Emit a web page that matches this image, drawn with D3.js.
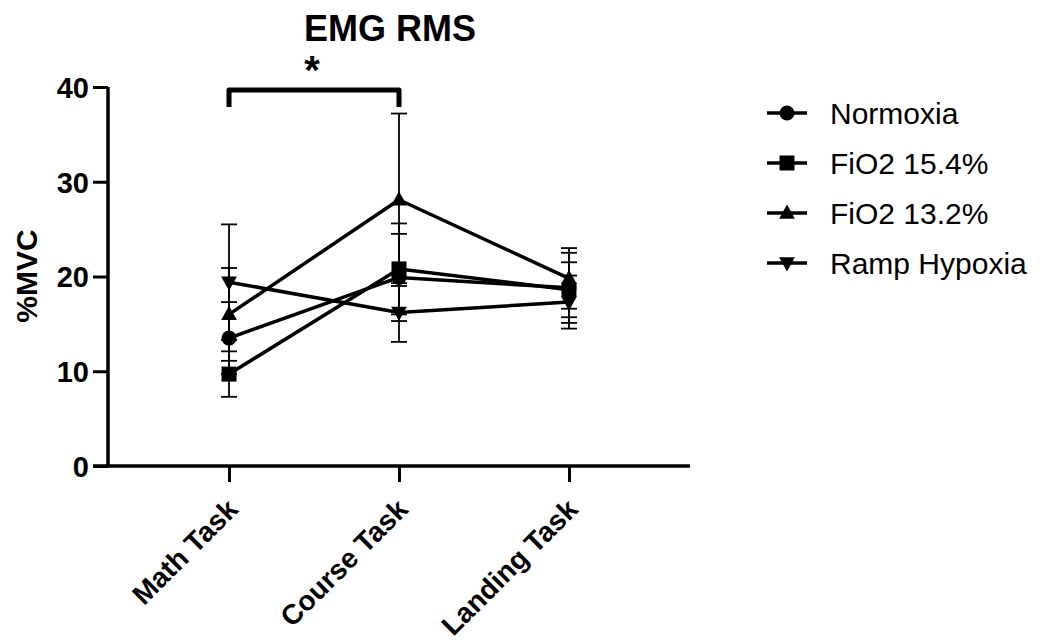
<!DOCTYPE html>
<html>
<head>
<meta charset="utf-8">
<script src="https://cdn.jsdelivr.net/npm/d3@7"></script>
<style>
  body { margin: 0; background: #fff; }
  text { font-family: "Liberation Sans", Arial, sans-serif; fill: #000; }
</style>
</head>
<body>
<script>
var width = 1040, height = 640;

// data
var tasks = ["Math Task", "Course Task", "Landing Task"];
var seriesNames = ["Normoxia", "FiO2 15.4%", "FiO2 13.2%", "Ramp Hypoxia"];
var normoxia     = [13.5, 19.9, 18.8];
var normoxiaSD   = [3.8, 4.6, 3.7];
var fio2_154     = [9.7, 20.8, 18.6];
var fio2_154SD   = [2.4, 4.8, 2.9];
var fio2_132     = [16.0, 28.1, 19.8];
var fio2_132SD   = [4.9, 9.1, 3.2];
var ramp         = [19.4, 16.2, 17.3];
var rampSD       = [6.1, 3.1, 2.8];
var yTicks = [0, 10, 20, 30, 40];
var symbols = ["circle", "square", "triangle", "triangleDown"];

var series = [
  { name: seriesNames[0], values: normoxia, sd: normoxiaSD, sym: symbols[0] },
  { name: seriesNames[1], values: fio2_154, sd: fio2_154SD, sym: symbols[1] },
  { name: seriesNames[2], values: fio2_132, sd: fio2_132SD, sym: symbols[2] },
  { name: seriesNames[3], values: ramp, sd: rampSD, sym: symbols[3] }
];

var svg = d3.select("body").append("svg")
  .attr("width", width)
  .attr("height", height);

var x = d3.scalePoint().domain(tasks).range([108, 690]).padding(0.712);
var y = d3.scaleLinear().domain([0, 40]).range([466, 87]);

// marker drawing
function marker(g, sym, cx, cy, s) {
  if (sym == "circle") {
    g.append("circle").attr("cx", cx).attr("cy", cy).attr("r", s * 0.5).attr("fill", "#000");
  } else if (sym == "square") {
    g.append("rect").attr("x", cx - s / 2).attr("y", cy - s / 2).attr("width", s).attr("height", s).attr("fill", "#000");
  } else {
    var h = s * 0.95, w = s * 1.05;
    var dir = sym == "triangle" ? 1 : -1;
    var pts = [[cx, cy - dir * h * 0.6], [cx - w / 2, cy + dir * h * 0.4], [cx + w / 2, cy + dir * h * 0.4]];
    g.append("polygon").attr("points", pts.map(function (p) { return p.join(","); }).join(" ")).attr("fill", "#000");
  }
}

// axes
var yAxis = d3.axisLeft(y).tickValues(yTicks).tickSize(15).tickPadding(4);
var gy = svg.append("g").attr("transform", "translate(108,0)").call(yAxis);
gy.select(".domain").attr("stroke-width", 3.5).attr("d", "M0," + y(40) + "V" + y(0));
gy.selectAll(".tick line").attr("stroke-width", 3);
gy.selectAll(".tick text").attr("font-size", 29).attr("font-weight", "bold").attr("dy", "0.36em");

var xAxis = d3.axisBottom(x).tickSize(16);
var gx = svg.append("g").attr("transform", "translate(0,466)").call(xAxis);
gx.select(".domain").attr("stroke-width", 3.5).attr("d", "M93,0H690");
gx.selectAll(".tick line").attr("stroke-width", 3);
gx.selectAll(".tick text")
  .attr("font-size", 28).attr("font-weight", "bold")
  .attr("text-anchor", "end")
  .attr("x", 0).attr("y", 0)
  .attr("dy", "0.35em")
  .attr("transform", "translate(3,38) rotate(-45)");
svg.selectAll(".domain, .tick line").attr("stroke", "#000");

// error bars
var plot = svg.append("g");
series.forEach(function (s) {
  s.values.forEach(function (v, i) {
    var cx = x(tasks[i]);
    var top = y(v + s.sd[i]), bot = y(v - s.sd[i]);
    plot.append("line").attr("x1", cx).attr("x2", cx).attr("y1", top).attr("y2", bot)
      .attr("stroke", "#000").attr("stroke-width", 1.8);
    [top, bot].forEach(function (yy) {
      plot.append("line").attr("x1", cx - 8).attr("x2", cx + 8).attr("y1", yy).attr("y2", yy)
        .attr("stroke", "#000").attr("stroke-width", 1.8);
    });
  });
});

// lines
var line = d3.line().x(function (d, i) { return x(tasks[i]); }).y(function (d) { return y(d); });
series.forEach(function (s) {
  plot.append("path").attr("d", line(s.values)).attr("fill", "none")
    .attr("stroke", "#000").attr("stroke-width", 3.5).attr("stroke-linejoin", "round");
});

// markers
series.forEach(function (s) {
  s.values.forEach(function (v, i) {
    marker(plot, s.sym, x(tasks[i]), y(v), 15);
  });
});

// significance bracket
var bTop = 90, bBot = 107;
svg.append("path")
  .attr("d", "M" + x(tasks[0]) + "," + bBot + "V" + bTop + "H" + x(tasks[1]) + "V" + bBot)
  .attr("fill", "none").attr("stroke", "#000").attr("stroke-width", 5)
  .attr("stroke-linejoin", "round");
svg.append("text")
  .attr("x", (x(tasks[0]) + x(tasks[1])) / 2 - 2).attr("y", 84)
  .attr("text-anchor", "middle").attr("font-size", 40).attr("font-weight", "bold")
  .text("*");

// title
svg.append("text").attr("x", 390).attr("y", 41)
  .attr("text-anchor", "middle").attr("font-size", 36).attr("font-weight", "bold")
  .text("EMG RMS");

// y label
svg.append("text")
  .attr("transform", "translate(37,276) rotate(-90)")
  .attr("text-anchor", "middle").attr("font-size", 30).attr("font-weight", "bold")
  .text("%MVC");

// legend
var legend = svg.append("g");
series.forEach(function (s, i) {
  var ly = 113 + i * 50;
  legend.append("line").attr("x1", 767).attr("x2", 807).attr("y1", ly).attr("y2", ly)
    .attr("stroke", "#000").attr("stroke-width", 3.5);
  marker(legend, s.sym, 787, ly, 15);
  legend.append("text").attr("x", 830).attr("y", ly).attr("dy", "0.36em")
    .attr("font-size", 30).text(s.name);
});
</script>
</body>
</html>
